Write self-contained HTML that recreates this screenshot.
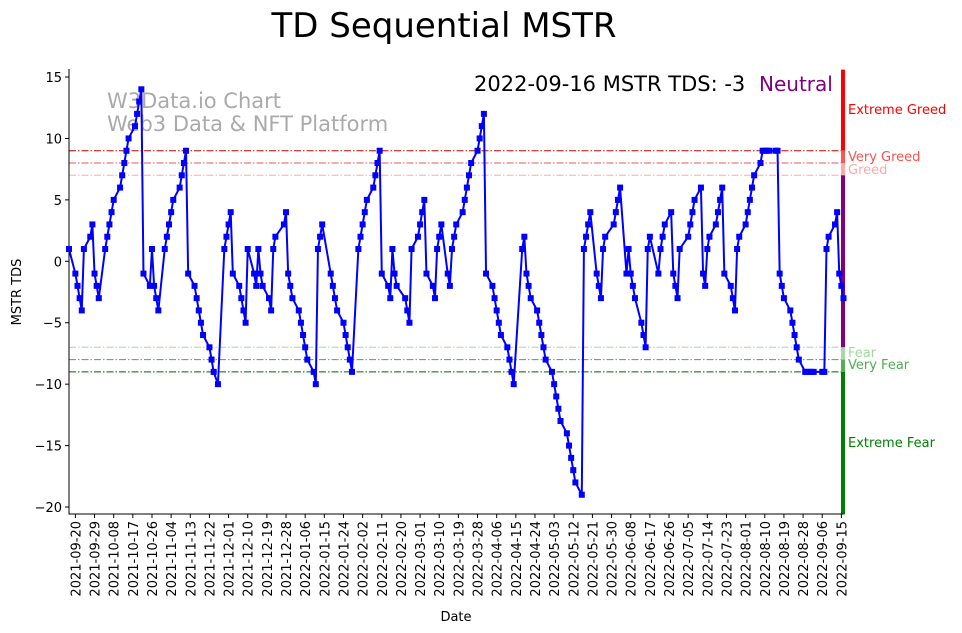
<!DOCTYPE html>
<html><head><meta charset="utf-8"><style>
html,body{margin:0;padding:0;background:#fff;}
svg{display:block;font-family:"DejaVu Sans","Liberation Sans",sans-serif;}
</style></head><body>
<svg id="chart" width="962" height="633" viewBox="0 0 962 633">
<text x="444" y="37" font-size="34" text-anchor="middle">TD Sequential MSTR</text>
<text x="107" y="108" font-size="21" fill="#aaa">W3Data.io Chart</text>
<text x="107" y="131" font-size="21" fill="#aaa">Web3 Data &amp; NFT Platform</text>
<text x="474" y="91" font-size="21">2022-09-16 MSTR TDS: -3</text>
<text x="759" y="91" font-size="20" fill="#800080">Neutral</text>
<text transform="translate(21,292) rotate(-90)" font-size="13" text-anchor="middle">MSTR TDS</text>
<text x="456" y="621" font-size="13" text-anchor="middle">Date</text>
<g id="bands"></g><g id="grid"></g><g id="axes"></g><g id="series"></g>
</svg>
<script>
const yTickValues = [15,10,5,0,-5,-10,-15,-20];
const levelValues = [9,8,7,-7,-8,-9];
const levelNames = ["Extreme Greed","Very Greed","Greed","Fear","Very Fear","Extreme Fear"];
const holidays = ["2021-11-25","2021-12-24","2022-01-17","2022-02-21","2022-04-15","2022-05-30","2022-06-20","2022-07-04","2022-09-05"];
const tdsValues = [
1,-1,-2,-3,-4,1,2,3,-1,-2,-3,1,2,3,4,5,6,7,8,9,10,11,12,13,14,-1,-2,1,-2,-3,-4,1,2,3,4,5,6,7,8,9,
-1,-2,-3,-4,-5,-6,-7,-8,-9,-10,1,2,3,4,-1,-2,-3,-4,-5,1,-1,-2,1,-1,-2,-3,-4,1,2,3,4,-1,-2,-3,-4,-5,-6,-7,-8,-9,-10,
1,2,3,-1,-2,-3,-4,-5,-6,-7,-8,-9,1,2,3,4,5,6,7,8,9,-1,-2,-3,1,-1,-2,-3,-4,-5,1,2,3,4,5,-1,-2,-3,1,2,3,-1,-2,1,2,3,4,5,6,7,8,9,10,11,12,
-1,-2,-3,-4,-5,-6,-7,-8,-9,-10,1,2,-1,-2,-3,-4,-5,-6,-7,-8,-9,-10,-11,-12,-13,-14,-15,-16,-17,-18,-19,
1,2,3,4,-1,-2,-3,1,2,3,4,5,6,-1,1,-1,-2,-3,-5,-6,-7,1,2,-1,1,2,3,4,-1,-2,-3,1,2,3,4,5,6,-1,-2,1,2,3,4,5,6,-1,-2,-3,-4,1,2,3,4,5,6,7,8,9,9,9,9,9,9,-1,-2,-3,-4,-5,-6,-7,-8,-9,-9,-9,-9,-9,-9,-9,1,2,3,4,-1,-2,-3
];
const startDate = "2021-09-17", endDate = "2022-09-16", firstTick = "2021-09-20";

const NS="http://www.w3.org/2000/svg";
const L=69,R=843.5,T=69,B=514;
const DAY=86400000;
const t0=Date.parse(startDate), t1=Date.parse(endDate);
const x=t=>L+(t-t0)/(t1-t0)*(R-L);
const y=v=>261.3-v*12.286;
function mk(tag,attrs,parent){const e=document.createElementNS(NS,tag);for(const k in attrs)e.setAttribute(k,attrs[k]);document.getElementById(parent).appendChild(e);return e;}
function iso(t){return new Date(t).toISOString().slice(0,10);}

const dates=[];let t=t1;
while(dates.length<tdsValues.length){const d=new Date(t).getUTCDay();if(d!==0&&d!==6&&!holidays.includes(iso(t)))dates.unshift(t);t-=DAY;}

const bandColors=["#ff0000","#ff5555","#ffaaaa","#800080","#a8d8a8","#55b055","#008000"];
const edges=[15.6,9,8,7,-7,-8,-9,-20.6];
for(let i=0;i<7;i++){
 const r=mk("rect",{x:841,y:y(edges[i]),width:4,height:y(edges[i+1])-y(edges[i]),fill:bandColors[i]},"bands");
 
 
}
const lineColors=["#cc0000","#ee5555","#ffaaaa","#a8d8a8","#55a055","#006400"];
const labelColors=["#ff0000","#ff5050","#ffaaaa","#a0d8a0","#4caf50","#008000"];
const labelY=[110,157,170,353,365,443];
levelValues.forEach((v,i)=>{
 const ln=mk("line",{x1:L,x2:841,y1:y(v),y2:y(v),stroke:lineColors[i],"stroke-width":1,"stroke-dasharray":"7,2,1.5,2"},"grid");
 
 
 const tx=mk("text",{x:848,y:labelY[i]+4,"font-size":13,fill:labelColors[i]},"grid");
 tx.textContent=levelNames[i];
 
 
});
const ax=mk("path",{d:`M${L},${T}V${B}H${R}`,stroke:"#000","stroke-width":1,fill:"none"},"axes");


yTickValues.forEach(v=>{
 const tk=mk("line",{x1:L-4,x2:L,y1:y(v),y2:y(v),stroke:"#000"},"axes");
 
 
 const lb=mk("text",{x:L-7,y:y(v)+5,"font-size":13,"text-anchor":"end"},"axes");
 lb.textContent=String(v).replace("-","\u2212");
 
 
});
for(let tt=Date.parse(firstTick);tt<=t1;tt+=9*DAY){
 const xx=x(tt);
 const tk=mk("line",{x1:xx,x2:xx,y1:B,y2:B+4,stroke:"#000"},"axes");
 
 
 const lb=mk("text",{transform:`translate(${xx+5},${B+7}) rotate(-90)`,"font-size":13,"text-anchor":"end"},"axes");
 lb.textContent=iso(tt);
 
 
}
const pts=tdsValues.map((v,i)=>[x(dates[i]),y(v)]);
const pl=mk("polyline",{points:pts.map(p=>p.join(",")).join(" "),fill:"none",stroke:"#0000ff","stroke-width":2,"stroke-linejoin":"round"},"series");


pts.forEach(p=>{
 const m=mk("rect",{x:p[0]-3,y:p[1]-3,width:6,height:6,fill:"#0000ff"},"series");
 
 
});
</script>
</body></html>
